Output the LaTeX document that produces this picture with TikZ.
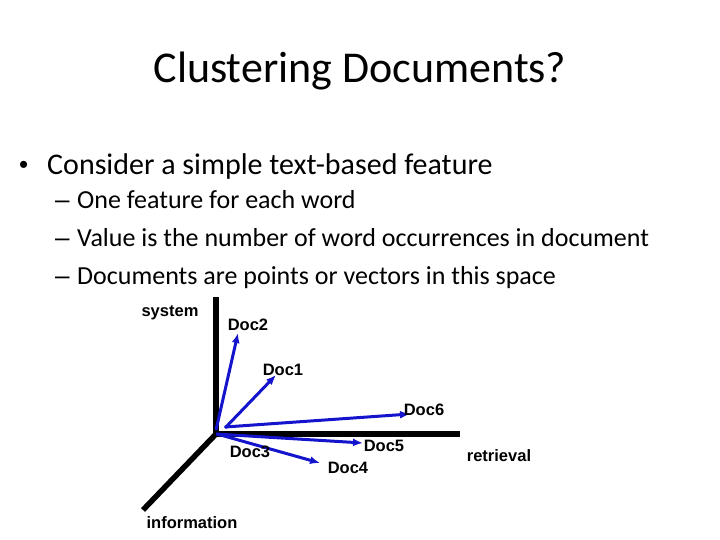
\documentclass[tikz,border=0pt]{standalone}
\usepackage{fontspec}
\setmainfont{Carlito}
\newfontfamily\labelfont{Liberation Sans}
\usetikzlibrary{positioning,arrows.meta}
\definecolor{vecblue}{RGB}{20,20,205}

\begin{document}
\begin{tikzpicture}[x=1pt, y=-1pt,
    slidetitle/.style={font=\fontsize{44}{48}\selectfont, anchor=base},
    lvlone/.style={font=\fontsize{30}{34}\selectfont, anchor=base west, inner sep=0pt},
    lvltwo/.style={font=\fontsize{26}{30}\selectfont, anchor=base west, inner sep=0pt},
    bulletmark/.style={font=\labelfont\fontsize{26}{30}\selectfont, anchor=base west, inner sep=0pt},
    axis/.style={line width=5.5pt},
    vec/.style={draw=vecblue, line width=3pt, -{Latex[length=10pt,width=8pt]}},
    lbl/.style={font=\labelfont\bfseries\fontsize{16.5}{18}\selectfont, inner sep=0pt},
  ]
  \useasboundingbox (0,0) rectangle (720,540);

  % title and bullets
  \node[slidetitle] (title) at (360,83) {Clustering Documents?};
  \node[bulletmark] (b1) at (19,174) {•};
  \node[lvlone] (t1) at (47,175) {Consider a simple text-based feature};
  \node[bulletmark] (d1) at (55,209) {–};
  \node[lvltwo] (t2) at (77,209) {One feature for each word};
  \node[bulletmark] (d2) at (55,247) {–};
  \node[lvltwo] (t3) at (77,247) {Value is the number of word occurrences in document};
  \node[bulletmark] (d3) at (55,284) {–};
  \node[lvltwo] (t4) at (77,284) {Documents are points or vectors in this space};

  % axes
  \coordinate (o) at (216,434);
  \coordinate (systop) at (216,297);
  \coordinate (retend) at (460,434);
  \coordinate (infend) at (143,510);
  \draw[axis] (o) -- (systop);
  \draw[axis] ([xshift=-2pt]o) -- (retend);
  \draw[axis] (o) -- (infend);
  \node[lbl] (system) at (170,313) {system};
  \node[lbl] (retrieval) at (499,456) {retrieval};
  \node[lbl] (information) at (192,523) {information};

  % document vectors
  \coordinate (tip2) at (238,333);
  \coordinate (tip1) at (276,375);
  \coordinate (tip6) at (410,414);
  \coordinate (tip5) at (363,443);
  \coordinate (tip4) at (320,463);
  \draw[vec] (216,430) -- (tip2);
  \draw[vec] (225,428) -- (tip1);
  \draw[vec] (225,427) -- (tip6);
  \draw[vec] (216,434) -- (tip5);
  \draw[vec] (217,434) -- (tip4);
  \node[lbl] (doc2) at (248,325) {Doc2};
  \node[lbl] (doc1) at (283,370) {Doc1};
  \node[lbl] (doc6) at (424,410) {Doc6};
  \node[lbl] (doc5) at (384,446) {Doc5};
  \node[lbl] (doc4) at (348,468) {Doc4};
  \node[lbl] (doc3) at (250,452) {Doc3};
\end{tikzpicture}
\end{document}
